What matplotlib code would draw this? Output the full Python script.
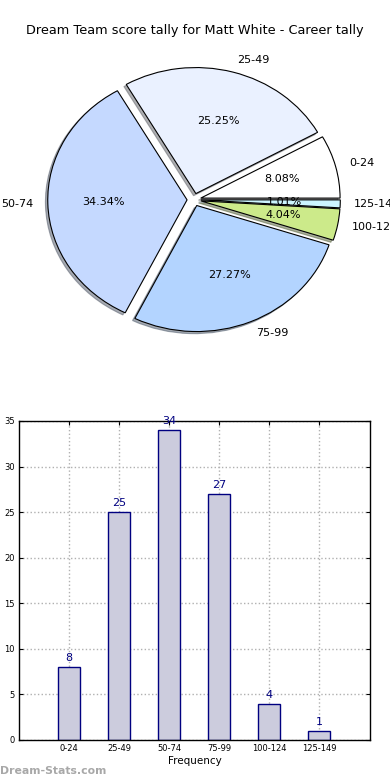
import numpy as np
import matplotlib
matplotlib.use("Agg")
import matplotlib.pyplot as plt

# data
ranges = ["0-24", "25-49", "50-74", "75-99", "100-124", "125-149"]
counts = [8, 25, 34, 27, 4, 1]
pie_colors = ["#ffffff", "#eaf1ff", "#c5d9ff", "#b3d4ff", "#ccea8a", "#ccf5ff"]

fig = plt.figure(figsize=(3.9, 7.8), dpi=100)
fig.text(0.5, 0.961, "Dream Team score tally for Matt White - Career tally",
         ha="center", va="center", fontsize=9.3)

#%% pie
ax1 = fig.add_axes([0.051, 0.542, 0.893, 0.404])
wedges, texts, autotexts = ax1.pie(counts, labels=ranges, colors=pie_colors,
                                   explode=[0.05] * len(counts), autopct="%.2f%%",
                                   shadow=dict(ox=-0.012, oy=-0.012, shade=0.6),
                                   startangle=0, counterclock=True,
                                   labeldistance=1.1, pctdistance=0.6,
                                   wedgeprops=dict(edgecolor="black", linewidth=0.8),
                                   textprops=dict(fontsize=8))
ax1.set_aspect("auto")
ax1.set_xlim(-1.25, 1.25)
ax1.set_ylim(-1.25, 1.25)
ax1.axis("off")

#%% bar
ax2 = fig.add_axes([0.0487, 0.0513, 0.9, 0.409])
x = np.arange(len(ranges))
ax2.bar(x, counts, width=0.45, color="#ccccdd", edgecolor="#000080", linewidth=1, zorder=2)
for xi, c in zip(x, counts):
    ax2.text(xi, c + 0.4, str(c), ha="center", va="bottom", fontsize=8, color="#000080")
ax2.set_xlim(-1, 6.02)
ax2.set_ylim(0, 35)
ax2.set_xticks(x)
ax2.set_xticklabels(ranges)
ax2.set_yticks(np.arange(0, 36, 5))
ax2.tick_params(labelsize=6, direction="in", top=True, right=True, length=3, pad=3)
ax2.grid(True, linestyle=":", color="#b0b0b0", linewidth=1, zorder=0)
ax2.set_axisbelow(True)
ax2.set_xlabel("Frequency", fontsize=7.5, labelpad=2)
ax2.set_ylabel("Dream Team Tally", fontsize=7.5, labelpad=4)
for s in ax2.spines.values():
    s.set_linewidth(1)

fig.text(0.0, 0.005, "Dream-Stats.com", fontsize=7.8, color="#a8a8a8",
         fontweight="bold", ha="left", va="bottom")

plt.savefig("out.png", dpi=100)
